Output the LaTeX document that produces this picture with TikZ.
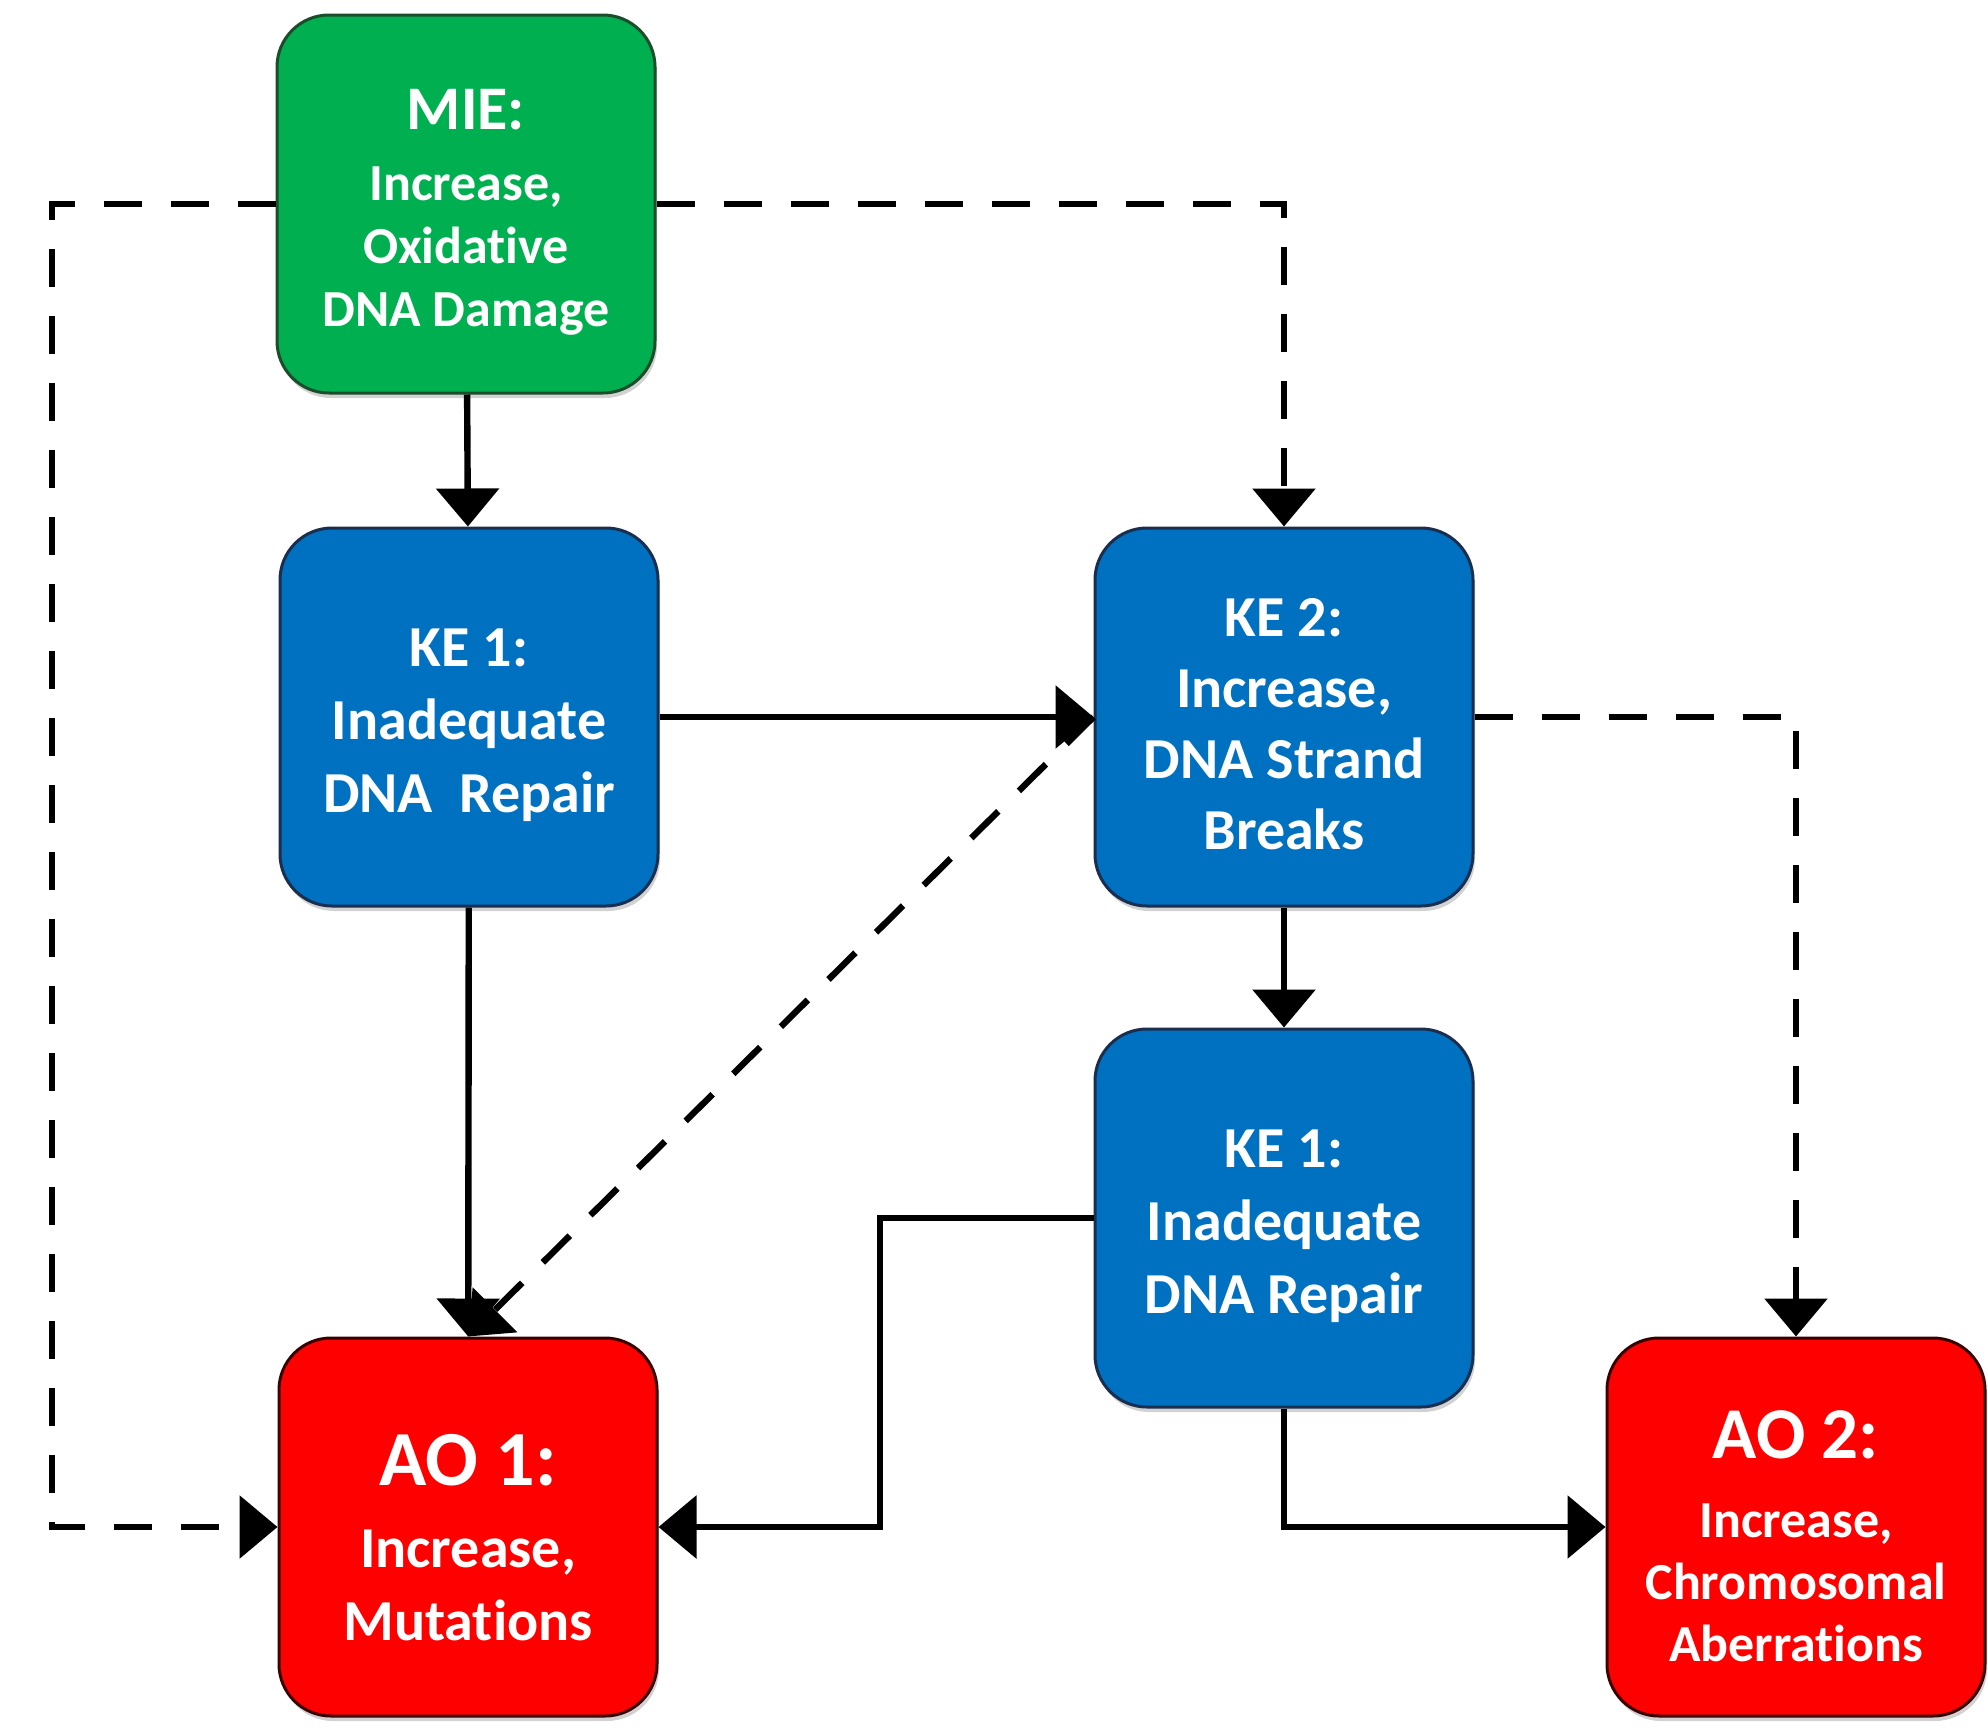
\documentclass[tikz,border=0pt]{standalone}
\usepackage{fontspec}
\setmainfont{Carlito}[Ligatures=NoCommon]
\usetikzlibrary{arrows.meta,shadows}

\definecolor{miegreen}{HTML}{00B050}
\definecolor{miedark}{HTML}{1B4D2A}
\definecolor{keblue}{HTML}{0070C0}
\definecolor{kedark}{HTML}{1A2E4F}
\definecolor{aored}{HTML}{FF0000}
\definecolor{aodark}{HTML}{3A0000}

% extra room above the first line of a box
\newcommand{\padtop}{\rule{0pt}{0.92em}}

\begin{document}
\begin{tikzpicture}[x=0.5pt, y=-0.5pt,
  box/.style={rectangle, rounded corners=26pt, minimum width=189pt, minimum height=189pt,
    inner sep=0pt, align=center, text=white, line width=1.5pt,
    drop shadow={shadow xshift=1pt, shadow yshift=-2.5pt, fill=black!35}},
  mie/.style={box, fill=miegreen, draw=miedark, font=\bfseries\fontsize{26}{31.5}\selectfont},
  ke/.style={box, fill=keblue, draw=kedark, font=\bfseries\fontsize{29}{35.5}\selectfont},
  ao/.style={box, fill=aored, draw=aodark},
  link/.style={line width=3.2pt, -{Triangle[width=31pt,length=19pt]}},
  dlink/.style={link, dash pattern=on 19pt off 14.5pt}]

\useasboundingbox (0,0) rectangle (1988,1730);

% Events
\node[mie] (mie) at (466,204) {{\fontsize{31}{37}\selectfont\padtop MIE:}\\[4pt] Increase,\\ Oxidative\\ DNA Damage};
\node[ke] (ke1) at (469,717) {\padtop KE 1:\\[1pt] Inadequate\\[1pt] DNA\ \ Repair};
\node[ke] (ke2) at (1284,717) {\padtop KE 2:\\ Increase,\\ DNA Strand\\ Breaks};
\node[ke] (ke1b) at (1284,1218) {\padtop KE 1:\\[1pt] Inadequate\\[1pt] DNA Repair};

% Outcomes
\node[ao, font=\bfseries\fontsize{29}{36.5}\selectfont] (ao1) at (468,1527)
  {{\fontsize{39}{47}\selectfont\padtop AO 1:}\\[4.5pt] Increase,\\ Mutations};
\node[ao, font=\bfseries\fontsize{26}{31}\selectfont] (ao2) at (1796,1527)
  {{\fontsize{36.5}{44}\selectfont\padtop AO 2:}\\[8.5pt] Increase,\\ Chromosomal\\ Aberrations};

\coordinate (lft) at (52,1527);
\coordinate (mid) at (880,1527);

% Direct links
\draw[link] (mie) -- (ke1);
\draw[link] (ke1) -- (ke2);
\draw[link] (ke1) -- (ao1);
\draw[link] (ke2) -- (ke1b);
\draw[link] (ke1b.west) -| (mid) -- (ao1.east);
\draw[link] (ke1b.south) |- (ao2.west);

% Indirect links
\draw[dlink] (mie.west) -| (lft) -- (ao1.west);
\draw[dlink] (mie.east) -| (ke2.north);
\draw[dlink] (ke2.west) -- (ao1.north);
\draw[dlink] (ke2.east) -| (ao2.north);

\end{tikzpicture}
\end{document}
